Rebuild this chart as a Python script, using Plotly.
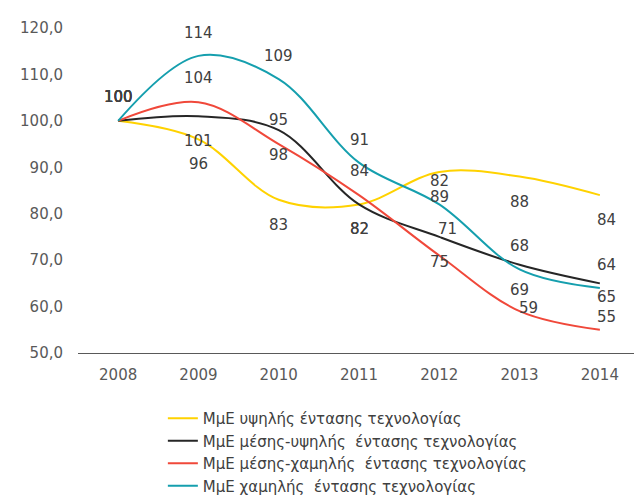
import plotly.graph_objects as go

years = ["2008", "2009", "2010", "2011", "2012", "2013", "2014"]

high_tech = [100, 96, 83, 82, 89, 88, 84]
mid_high_tech = [100, 101, 98, 82, 75, 69, 65]
mid_low_tech = [100, 104, 95, 84, 71, 59, 55]
low_tech = [100, 114, 109, 91, 82, 68, 64]

names = [
    "ΜμΕ υψηλής έντασης τεχνολογίας",
    "ΜμΕ μέσης-υψηλής  έντασης τεχνολογίας",
    "ΜμΕ μέσης-χαμηλής  έντασης τεχνολογίας",
    "ΜμΕ χαμηλής  έντασης τεχνολογίας",
]
series = [high_tech, mid_high_tech, mid_low_tech, low_tech]
colors = ["#FFD200", "#262626", "#F0483A", "#159FAE"]
# value labels: yellow/black sit under the line, red/teal above it
label_shift = [-25, -25, 24, 23]
# a few labels were nudged by hand in the original
label_nudge = {(2, 4): (8, 27), (2, 5): (9, 3), (2, 6): (7, 13), (1, 6): (7, -14)}

fig = go.Figure()
for k, (name, vals, col) in enumerate(zip(names, series, colors)):
    fig.add_trace(go.Scatter(
        x=years, y=vals, name=name, mode="lines", legendgroup=f"g{k}",
        line=dict(color=col, width=2, shape="spline", smoothing=1.0),
    ))

for k, (vals, shift) in enumerate(zip(series, label_shift)):
    for i, v in enumerate(vals):
        dx, dy = 0, shift
        if i == 0:
            dy = 24
        if i == 6:
            dx = 7
        dx, dy = label_nudge.get((k, i), (dx, dy))
        # category axis: place by index so "2008" isn't read as a position
        fig.add_annotation(
            x=i, y=v, text=str(v), showarrow=False, xshift=dx, yshift=dy,
            font=dict(family="DejaVu Sans", size=15, color="#404040"),
        )

# page body adds ~8px offset, so margins are trimmed by that much
fig.update_layout(
    width=642, height=495,
    margin=dict(l=70, r=10, t=20, b=150),
    plot_bgcolor="white", paper_bgcolor="white",
    separators=",.",
    font=dict(family="DejaVu Sans", size=14, color="#595959"),
    showlegend=True,
    legend=dict(
        x=0.151, y=0.204, xanchor="left", yanchor="top", yref="container",
        font=dict(size=15, color="#404040"), tracegroupgap=0,
        bgcolor="rgba(0,0,0,0)",
    ),
    xaxis=dict(
        type="category", range=[-0.5, 6.5], automargin=False,
        showgrid=False, zeroline=False,
        showline=True, linecolor="#595959", linewidth=1,
        ticks="", ticklabelstandoff=8,
        tickfont=dict(size=15, color="#595959"),
    ),
    yaxis=dict(
        range=[50, 120], dtick=10, tickformat=".1f", automargin=False,
        showgrid=False, zeroline=False, showline=False,
        ticks="", ticklabelstandoff=14,
        tickfont=dict(size=15, color="#595959"),
    ),
)

fig.write_html("out.html")
